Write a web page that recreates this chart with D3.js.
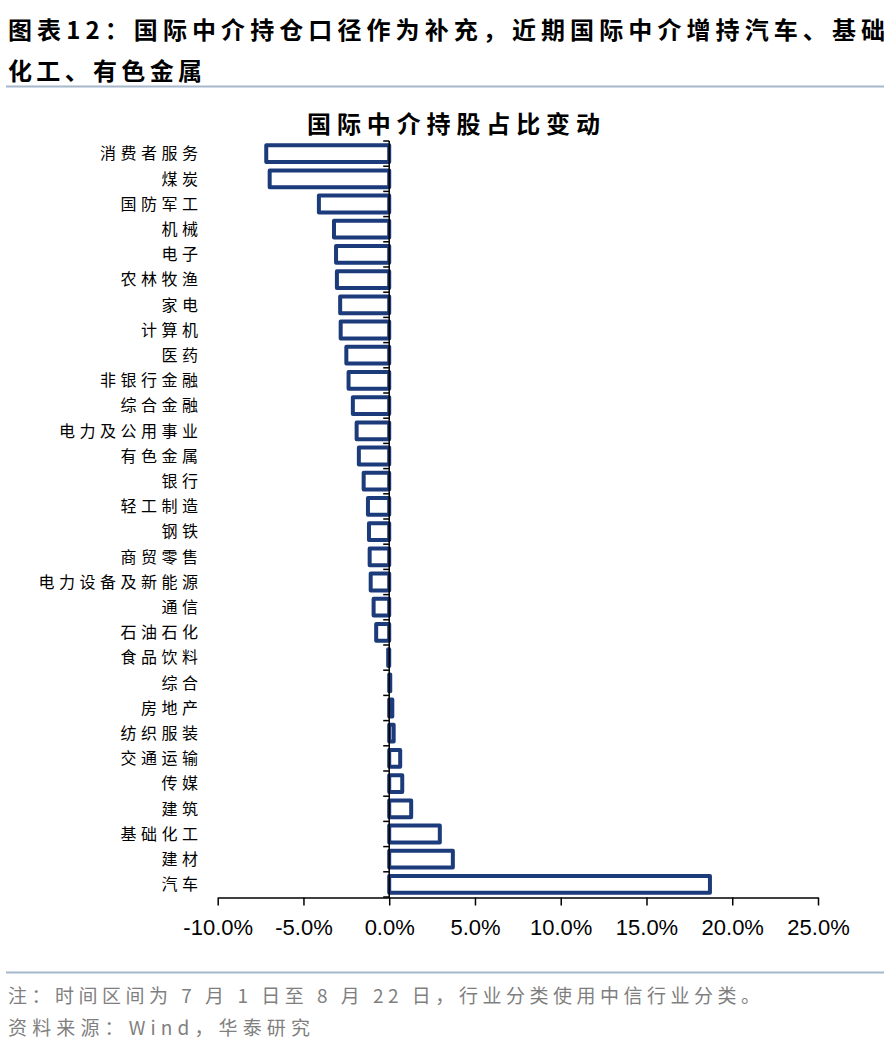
<!DOCTYPE html>
<html><head><meta charset="utf-8">
<script src="https://cdn.jsdelivr.net/npm/d3@7/dist/d3.min.js"></script>
<style>
html,body{margin:0;padding:0;background:#fff;}
svg{display:block;}
</style></head>
<body>
<svg id="chart" width="888" height="1050"></svg>
<script>
const categories = ["消费者服务","煤炭","国防军工","机械","电子","农林牧渔","家电","计算机","医药","非银行金融","综合金融","电力及公用事业","有色金属","银行","轻工制造","钢铁","商贸零售","电力设备及新能源","通信","石油石化","食品饮料","综合","房地产","纺织服装","交通运输","传媒","建筑","基础化工","建材","汽车"];
const values = [-7.17,-6.97,-4.1,-3.22,-3.1,-3.05,-2.86,-2.83,-2.5,-2.37,-2.12,-1.9,-1.77,-1.49,-1.24,-1.18,-1.14,-1.08,-0.91,-0.76,-0.06,0.06,0.18,0.26,0.64,0.76,1.28,2.95,3.71,18.7];
const xTicks = [-10,-5,0,5,10,15,20,25];
const titleLines = ["图表12：国际中介持仓口径作为补充，近期国际中介增持汽车、基础","化工、有色金属"];
const chartTitle = "国际中介持股占比变动";
const notes = ["注：时间区间为 7 月 1 日至 8 月 22 日，行业分类使用中信行业分类。","资料来源：Wind，华泰研究"];

const svg = d3.select("#chart");
const CJK = "'Noto Sans CJK SC','Noto Sans',sans-serif";
const navy = "#1c3b7a";

// Header
svg.append("text").attr("x",8).attr("y",39).attr("font-family",CJK).attr("font-weight","bold")
  .attr("font-size",24).attr("fill","#000").attr("textLength",877).attr("lengthAdjust","spacing").text(titleLines[0]);
svg.append("text").attr("x",8).attr("y",80).attr("font-family",CJK).attr("font-weight","bold")
  .attr("font-size",24).attr("fill","#000").attr("textLength",194).attr("lengthAdjust","spacing").text(titleLines[1]);
svg.append("line").attr("x1",6).attr("x2",884).attr("y1",86.5).attr("y2",86.5).attr("stroke","#a6b8cc").attr("stroke-width",2);

// Chart title
svg.append("text").attr("x",307).attr("y",133).attr("font-family",CJK).attr("font-weight","bold")
  .attr("font-size",24).attr("fill","#000").attr("textLength",293).attr("lengthAdjust","spacing").text(chartTitle);

// Scales
const x = d3.scaleLinear().domain([-10,25]).range([217.7,818]);
const y = d3.scaleBand().domain(categories).range([141,897]).paddingInner(1/3).paddingOuter(1/6);
const data = categories.map((c,i)=>({c, v:values[i]}));

// Bars
svg.append("g").selectAll("rect").data(data).join("rect")
  .attr("x",d=>Math.min(x(0),x(d.v)))
  .attr("y",d=>y(d.c))
  .attr("width",d=>Math.abs(x(d.v)-x(0)))
  .attr("height",y.bandwidth())
  .attr("fill","#fff").attr("stroke",navy).attr("stroke-width",4).attr("stroke-linejoin","round");

// Y axis line and ticks (at band boundaries, pointing left)
const step = y.step();
const bounds = categories.map(c=>y(c)-step*y.paddingInner()/2).concat([897]);
const gy = svg.append("g");
gy.append("line").attr("x1",x(0)).attr("x2",x(0)).attr("y1",141).attr("y2",898).attr("stroke","#000").attr("stroke-width",1.5);
gy.selectAll("line.t").data(bounds).join("line").attr("class","t")
  .attr("x1",x(0)-6).attr("x2",x(0)).attr("y1",d=>d).attr("y2",d=>d).attr("stroke","#000").attr("stroke-width",1.5);

// Category labels
svg.append("g").selectAll("text").data(categories).join("text")
  .attr("x",198+4.5).attr("y",c=>y(c)+y.bandwidth()/2)
  .attr("dy","0.36em").attr("text-anchor","end")
  .attr("font-family",CJK).attr("font-size",16).attr("letter-spacing","4.5px").attr("fill","#000")
  .text(c=>c);

// X axis
const gx = svg.append("g").attr("transform","translate(0,897.5)")
  .call(d3.axisBottom(x).tickValues(xTicks).tickSize(8).tickSizeOuter(0).tickPadding(14)
    .tickFormat(d=>d3.format(".1f")(d).replace("−","-")+"%"));
gx.select(".domain").attr("stroke","#000").attr("stroke-width",1.5);
gx.selectAll(".tick line").attr("stroke","#000").attr("stroke-width",1.5);
gx.selectAll(".tick text").attr("font-family","'Liberation Sans',Arial,sans-serif").attr("font-size",22).attr("fill","#000");

// Footer
svg.append("line").attr("x1",6).attr("x2",884).attr("y1",972.5).attr("y2",972.5).attr("stroke","#a6b8cc").attr("stroke-width",2);
svg.append("text").attr("x",8).attr("y",1003).attr("font-family",CJK).attr("font-size",19).attr("fill","#7f7f7f")
  .attr("textLength",752).attr("lengthAdjust","spacing").text(notes[0]);
svg.append("text").attr("x",8).attr("y",1035).attr("font-family",CJK).attr("font-size",19).attr("fill","#7f7f7f")
  .attr("textLength",302).attr("lengthAdjust","spacing").text(notes[1]);
</script>
</body></html>
